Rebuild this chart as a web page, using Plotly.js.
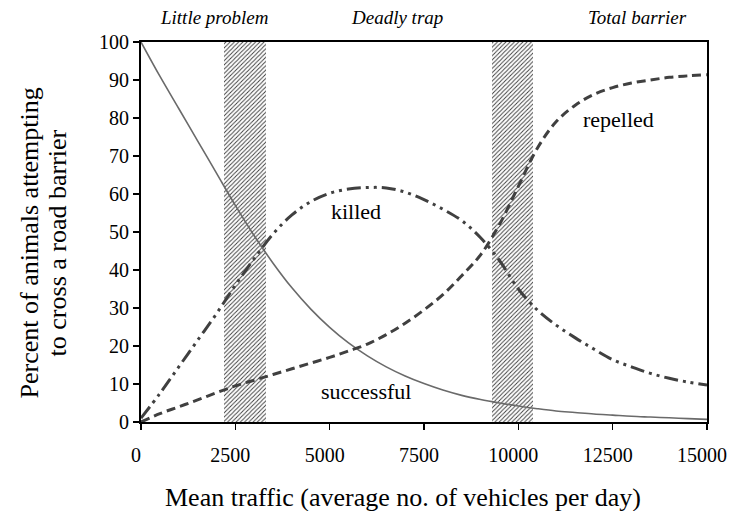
<!DOCTYPE html>
<html>
<head>
<meta charset="utf-8">
<script src="https://cdn.plot.ly/plotly-3.0.1.min.js"></script>
<style>html,body{margin:0;padding:0;background:#fff;}#chart{width:730px;height:511px;}</style>
</head>
<body>
<div id="chart"></div>
<script>
// Traffic (vehicles per day)
const traffic = [0,500,1000,1500,2000,2500,3000,3500,4000,4500,5000,5500,6000,6500,7000,7500,8000,8500,9000,9500,10000,10500,11000,11500,12000,12500,13000,13500,14000,14500,15000];
const successful = [100,91,82.5,74,65.5,57,49,41.8,35.3,29.7,24.9,20.8,17.4,14.5,12.1,10.1,8.4,7.0,5.9,5.0,4.2,3.5,2.9,2.5,2.1,1.8,1.5,1.3,1.1,0.9,0.7];
const killed = [1,7.5,14.5,21.5,28.5,36,43,49.5,54.5,58,60.2,61.3,61.7,61.6,60.5,58.5,56,53,48.5,42.5,35,29.5,25.5,22.2,19.2,16.4,14.5,12.8,11.5,10.5,9.7];
const repelled = [0,2.2,4,5.8,7.7,9.5,11,12.5,14,15.5,17,18.7,20.5,23,26,29.5,33.5,38.5,44,52,62,72,79,83.3,86.2,88,89.2,90,90.7,91.1,91.4];
// Axis ticks
const xTickVals = [0,2500,5000,7500,10000,12500,15000];
const xTickText = ["0","2500","5000","7500","10000","12500","15000"];
// Axis titles
const xTitle = "Mean traffic (average no. of vehicles per day)";
const yTitleLines = ["Percent of animals attempting", "to cross a road barrier"];
// Transition zones (hatched)
const bandStart = [2200, 9300];
const bandEnd = [3300, 10400];
const bandTop = [100, 100];
// Zone labels
const zoneLabels = ["Little problem", "Deadly trap", "Total barrier"];
const zoneX = [1935, 6785, 13170];
// Curve labels
const curveLabels = ["killed", "repelled", "successful"];
const curveLabelX = [5700, 12650, 5970];
const curveLabelY = [55.3, 79.5, 8];

const serif = "Liberation Serif, Times New Roman, serif";

const bandCenter = bandStart.map((s, i) => (s + bandEnd[i]) / 2);
const bandWidth = bandStart.map((s, i) => bandEnd[i] - s);

const traces = [
  {
    type: 'bar', x: bandCenter, y: bandTop, width: bandWidth,
    marker: {color: 'white', line: {width: 0},
      pattern: {shape: '/', fgcolor: '#3a3a3a', bgcolor: 'white', size: 3, solidity: 0.3}},
    hoverinfo: 'skip', showlegend: false
  },
  {type: 'scatter', mode: 'lines', x: traffic, y: successful, line: {color: '#6a6a6a', width: 1.6, shape: 'spline'}, showlegend: false},
  {type: 'scatter', mode: 'lines', x: traffic, y: killed, line: {color: '#404040', width: 3, dash: '14px,5px,3px,5px,3px,5px', shape: 'spline'}, showlegend: false},
  {type: 'scatter', mode: 'lines', x: traffic, y: repelled, line: {color: '#404040', width: 3, dash: '9px,5px', shape: 'spline'}, showlegend: false}
];

const annotations = [];
zoneLabels.forEach((t, i) => annotations.push({
  x: zoneX[i], xref: 'x', y: 1, yref: 'paper', yanchor: 'middle', yshift: 25, text: '<i>' + t + '</i>',
  showarrow: false, font: {family: serif, size: 19, color: '#000'}
}));
curveLabels.forEach((t, i) => annotations.push({
  x: curveLabelX[i], y: curveLabelY[i], xref: 'x', yref: 'y', text: t,
  showarrow: false, font: {family: serif, size: 22, color: '#000'}
}));
// x-axis title
annotations.push({
  x: 0.463, xref: 'paper', y: 0, yref: 'paper', yanchor: 'middle', yshift: -75,
  text: xTitle, showarrow: false, font: {family: serif, size: 26, color: '#000'}
});
// y-axis title, two lines
const yTitleX = [29, 57];
yTitleLines.forEach((t, i) => annotations.push({
  x: 0, xref: 'paper', xanchor: 'center', xshift: yTitleX[i] - 141,
  y: 0.47, yref: 'paper', yanchor: 'middle',
  textangle: -90, text: t, showarrow: false,
  font: {family: serif, size: 26, color: '#000'}
}));

const layout = {
  width: 730, height: 511,
  margin: {l: 141, r: 23, t: 42, b: 89},
  paper_bgcolor: 'white', plot_bgcolor: 'white',
  bargap: 0,
  font: {family: serif, size: 20, color: '#000'},
  xaxis: {
    range: [0, 15000], tickvals: xTickVals, ticktext: xTickText,
    ticks: 'outside', ticklen: 6, tickwidth: 1.5, tickcolor: '#000',
    ticklabelstandoff: 8, ticklabelshift: -5, ticklabeloverflow: 'allow',
    showline: true, linecolor: '#000', linewidth: 2, mirror: true,
    showgrid: false, zeroline: false,
    tickfont: {family: serif, size: 20, color: '#000'}
  },
  yaxis: {
    range: [0, 100], dtick: 10,
    ticks: 'outside', ticklen: 6, tickwidth: 1.5, tickcolor: '#000',
    showline: true, linecolor: '#000', linewidth: 2, mirror: true,
    showgrid: false, zeroline: false,
    tickfont: {family: serif, size: 20, color: '#000'}
  },
  annotations: annotations
};

Plotly.newPlot('chart', traces, layout, {displayModeBar: false, staticPlot: true});
</script>
</body>
</html>
